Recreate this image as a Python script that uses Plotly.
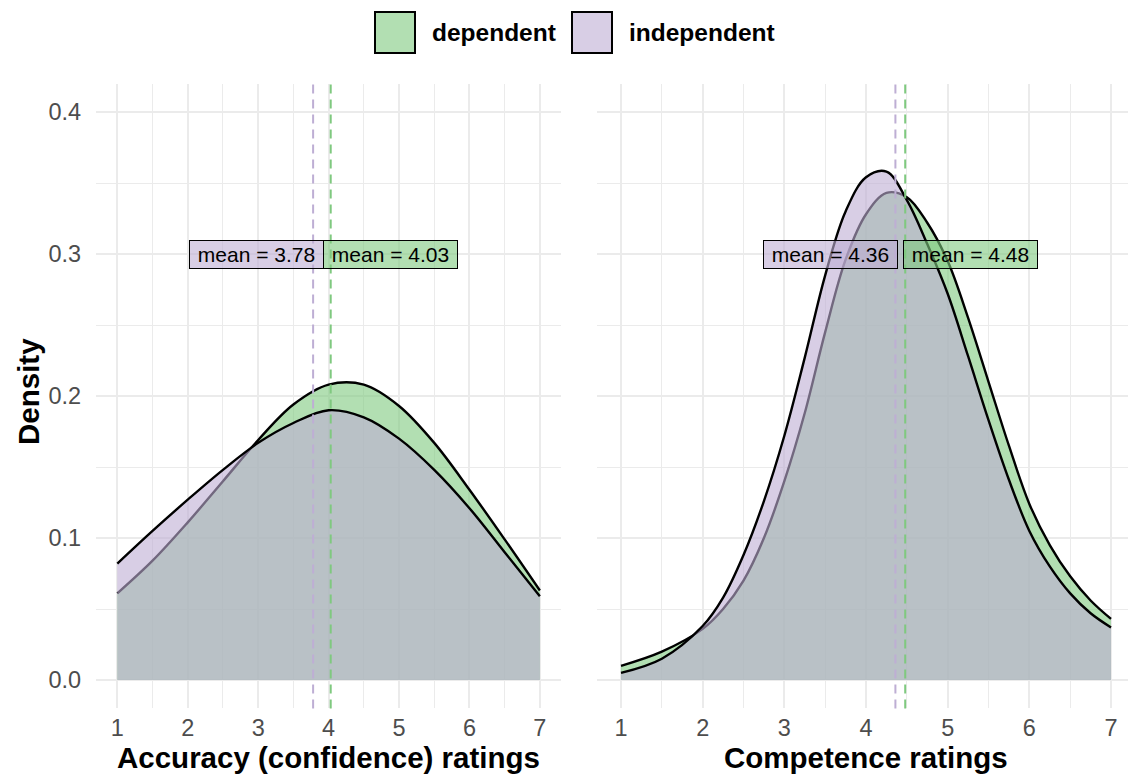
import plotly.graph_objects as go

# ---------------- data ----------------
groups = ["dependent", "independent"]

acc_x = [1.0, 1.5, 2.0, 2.5, 3.0, 3.5, 4.0, 4.5, 5.0, 5.5, 6.0, 6.5, 7.0]
acc_dep = [0.061, 0.084, 0.111, 0.140, 0.169, 0.194, 0.208, 0.208, 0.193, 0.167, 0.134, 0.099, 0.063]
acc_ind = [0.082, 0.105, 0.127, 0.148, 0.167, 0.181, 0.190, 0.185, 0.170, 0.148, 0.121, 0.090, 0.059]

comp_x = [1.0, 1.5, 2.0, 2.25, 2.5, 2.75, 3.0, 3.25, 3.5, 3.75, 4.0, 4.25, 4.5, 4.75,
          5.0, 5.25, 5.5, 5.75, 6.0, 6.25, 6.5, 6.75, 7.0]
comp_dep = [0.010, 0.020, 0.036, 0.050, 0.070, 0.100, 0.140, 0.188, 0.245, 0.296, 0.328, 0.343,
            0.340, 0.322, 0.295, 0.255, 0.210, 0.165, 0.124, 0.095, 0.073, 0.056, 0.043]
comp_ind = [0.005, 0.015, 0.038, 0.058, 0.088, 0.126, 0.172, 0.227, 0.285, 0.330, 0.354, 0.358,
            0.338, 0.307, 0.272, 0.228, 0.183, 0.141, 0.105, 0.080, 0.061, 0.047, 0.037]

acc_means = [4.03, 3.78]
comp_means = [4.48, 4.36]
label_y = 0.3

x_ticks = [1, 2, 3, 4, 5, 6, 7]
y_ticks = [0.0, 0.1, 0.2, 0.3, 0.4]
y_ticklabels = ["0.0", "0.1", "0.2", "0.3", "0.4"]

x_titles = ["Accuracy (confidence) ratings", "Competence ratings"]
y_title = "Density"

# ---------------- styling ----------------
W, H = 1128, 780
FONT = "Liberation Sans, Arial, Helvetica, sans-serif"
base_col = {"dependent": (127, 201, 127), "independent": (190, 174, 212)}
ALPHA = 0.6


def rgba(c, a):
    return f"rgba({c[0]},{c[1]},{c[2]},{a})"


def px_x(p):
    return p / W


def px_y(p):
    return 1 - p / H


grid_major = "#ebebeb"

fig = go.Figure()

panels = [
    ("x", "y", acc_x, {"dependent": acc_dep, "independent": acc_ind}, acc_means),
    ("x2", "y2", comp_x, {"dependent": comp_dep, "independent": comp_ind}, comp_means),
]

# label nudges in pixels (left edge for dependent, right edge for independent)
label_shift = [{"dependent": -8, "independent": 11}, {"dependent": -2, "independent": 3}]

for pi, (xa, ya, xs, series, means) in enumerate(panels):
    for g in groups:
        fig.add_trace(go.Scatter(
            x=xs, y=series[g], xaxis=xa, yaxis=ya,
            mode="lines", line=dict(color="black", width=2.4, shape="spline", smoothing=1.0),
            fill="tozeroy", fillcolor=rgba(base_col[g], ALPHA),
            showlegend=False, hoverinfo="skip",
        ))
    for g, m in zip(groups, means):
        fig.add_shape(type="line", xref=xa, yref=f"{ya} domain", x0=m, x1=m, y0=0, y1=1,
                      line=dict(color=rgba(base_col[g], 1), width=2, dash="9px,6px"), layer="above")
        is_dep = g == "dependent"
        fig.add_annotation(
            x=m, y=label_y, xref=xa, yref=ya,
            text="\u00a0mean = %.2f\u00a0" % m,
            showarrow=False,
            xanchor="left" if is_dep else "right", yanchor="middle",
            xshift=label_shift[pi][g],
            font=dict(family=FONT, size=21, color="black"),
            bgcolor=rgba(base_col[g], ALPHA), bordercolor="black", borderwidth=1, borderpad=2,
        )

axis_common = dict(
    showline=False, zeroline=False, ticks="",
    gridcolor=grid_major, gridwidth=2,
    tickfont=dict(family=FONT, size=23.5, color="#4d4d4d"),
)
ydom = [px_y(708.4), px_y(83.6)]

fig.update_layout(
    width=W, height=H, margin=dict(l=0, r=0, t=0, b=0),
    paper_bgcolor="white", plot_bgcolor="white",
    showlegend=False,
    xaxis=dict(domain=[px_x(96.2), px_x(561)], range=[0.7, 7.3], tickvals=x_ticks,
               minor=dict(dtick=0.5, tick0=0.5, showgrid=True, gridcolor=grid_major, gridwidth=1),
               anchor="y", ticklabelstandoff=3, **axis_common),
    xaxis2=dict(domain=[px_x(596.5), 1.0], range=[0.7, 1 + (W - 621) / 81.67], tickvals=x_ticks,
                minor=dict(dtick=0.5, tick0=0.5, showgrid=True, gridcolor=grid_major, gridwidth=1),
                anchor="y2", ticklabelstandoff=3, **axis_common),
    yaxis=dict(domain=ydom, range=[-0.02, 0.42], tickvals=y_ticks, ticktext=y_ticklabels,
               minor=dict(dtick=0.05, tick0=0.05, showgrid=True, gridcolor=grid_major, gridwidth=1),
               anchor="x", ticklabelstandoff=14, **axis_common),
    yaxis2=dict(domain=ydom, range=[-0.02, 0.42], tickvals=y_ticks, showticklabels=False,
                minor=dict(dtick=0.05, tick0=0.05, showgrid=True, gridcolor=grid_major, gridwidth=1),
                anchor="x2", **axis_common),
)

# axis titles
title_font = dict(family=FONT, size=29.5, color="black")
fig.add_annotation(x=px_x(328.6), y=px_y(757), xref="paper", yref="paper", text="<b>%s</b>" % x_titles[0],
                   showarrow=False, xanchor="center", yanchor="middle", font=title_font)
fig.add_annotation(x=px_x(866), y=px_y(757), xref="paper", yref="paper", text="<b>%s</b>" % x_titles[1],
                   showarrow=False, xanchor="center", yanchor="middle", font=title_font)
fig.add_annotation(x=px_x(28), y=px_y(392), xref="paper", yref="paper", text="<b>%s</b>" % y_title,
                   showarrow=False, xanchor="center", yanchor="middle", textangle=-90, font=title_font)

# legend (manual keys)
legend_keys = [(375, 432), (572, 629)]
for g, (kx, tx) in zip(groups, legend_keys):
    fig.add_shape(type="rect", xref="paper", yref="paper",
                  x0=px_x(kx), x1=px_x(kx + 40), y0=px_y(53), y1=px_y(12),
                  fillcolor=rgba(base_col[g], ALPHA), line=dict(color="black", width=2))
    fig.add_annotation(x=px_x(tx - 2), y=px_y(33), xref="paper", yref="paper", text="<b>%s</b>" % g,
                       showarrow=False, xanchor="left", yanchor="middle",
                       font=dict(family=FONT, size=24.5, color="black"))

fig.write_html("out.html", config={"displayModeBar": False},
               post_script="document.body.style.margin='0px';document.body.style.overflow='hidden';")
